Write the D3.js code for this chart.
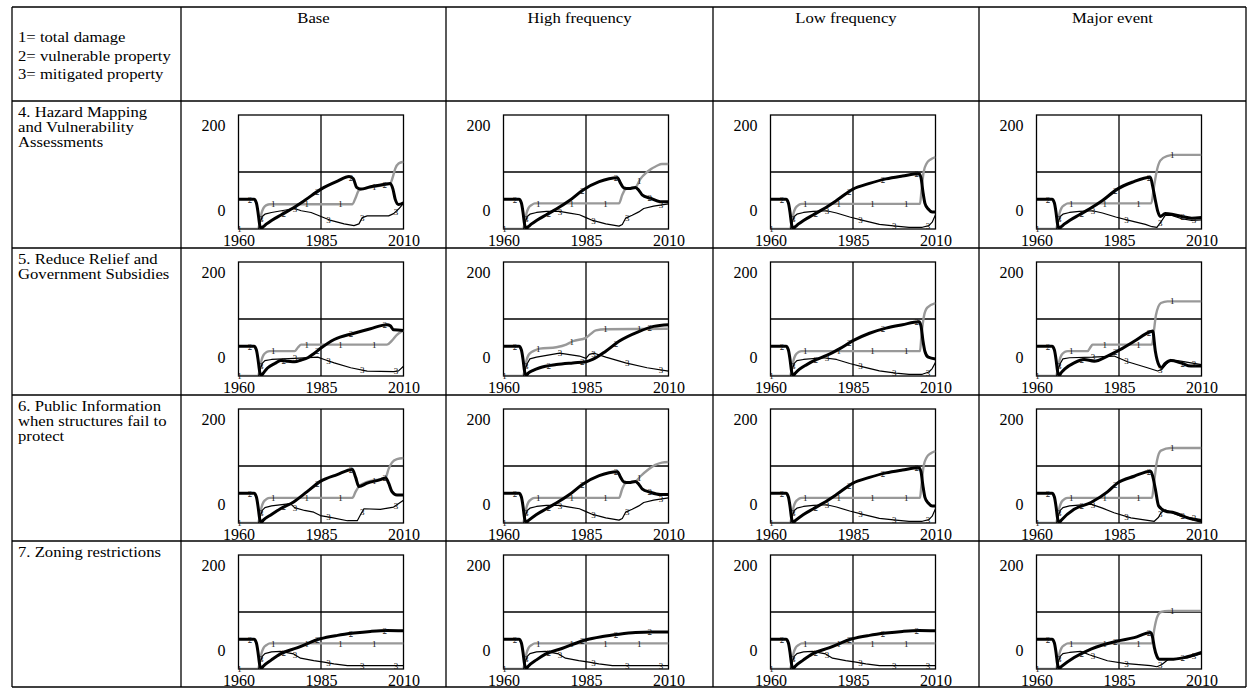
<!DOCTYPE html>
<html>
<head>
<meta charset="utf-8">
<script src="https://cdn.jsdelivr.net/npm/d3@7"></script>
<style>
body { margin: 0; background: #fff; }
svg text { font-family: "Liberation Serif", "Times New Roman", serif; }
</style>
</head>
<body>
<svg id="chart" width="1249" height="688"></svg>
<script>
// text of the table
const scenarios = ["Base", "High frequency", "Low frequency", "Major event"];
const legendLines = ["1= total damage", "2= vulnerable property", "3= mitigated property"];
const policyLabels = [
  ["4. Hazard Mapping", "and Vulnerability", "Assessments"],
  ["5. Reduce Relief and", "Government Subsidies"],
  ["6. Public Information", "when structures fail to", "protect"],
  ["7. Zoning restrictions"]
];
const xTicks = [1960, 1985, 2010];
const yTicks = [0, 200];
// years where the little series numbers sit
const labelYears = [
  [1960.3, 1970.5, 1980.7, 1990.9, 2001.1],
  [1963.5, 1973.7, 1983.9, 1994.1, 2004.3],
  [1966.9, 1977.1, 1987.3, 1997.5, 2007.7]
];

// same first years in every run
const startDamage = [[1960,0],[1965.9,0],[1966.4,10],[1967,28],[1967.6,37],[1968.5,42]];
const startVulnerable = [[1960,52],[1964.7,52],[1965.4,46],[1965.9,30],[1966.4,8],[1966.9,1]];
const startMitigated = [[1960,0],[1966.1,0],[1966.6,12],[1967.2,22]];

// 4. hazard mapping  (base, high, low, major)
const hazardDamage = [
  [[1969.5,43.5],[1994.5,43.5],[1995.5,55],[1996.5,68],[1998,71],[2001,74],[2004,77],[2006,80],[2006.8,92],[2007.5,106],[2008.5,115],[2010,118]],
  [[1969.5,45],[1995,45],[1996,60],[1997,70],[2000,73],[2001.5,88],[2003.5,100],[2006.5,111],[2008,114],[2010,114]],
  [[1969.5,44],[2005.3,44],[2005.8,70],[2006.4,100],[2007.3,115],[2008.5,122],[2010,126]],
  [[1969.5,45],[1994.8,45],[1995.5,70],[1996.3,98],[1997.5,120],[1999.5,128],[2002,130],[2010,130]]
];
const hazardVulnerable = [
  [[1967.5,4],[1968.5,9],[1970,15],[1973,25],[1976,35],[1980,50],[1985,70],[1990,84],[1993.5,92],[1994.8,88],[1995.8,73],[1997,70],[2000,74],[2004,78],[2006,80],[2006.8,70],[2007.5,52],[2008.5,43],[2010,46]],
  [[1967.5,4],[1968.5,9],[1970,15],[1973,25],[1976,35],[1980,50],[1984,68],[1989,83],[1994.5,90],[1995.5,80],[1996.5,72],[1998,71],[2000,73],[2001,68],[2002,60],[2004.5,54],[2007.5,48],[2010,48]],
  [[1967.5,4],[1968.5,9],[1970,15],[1973,25],[1976,35],[1980,50],[1985,70],[1990,80],[1995,88],[2000,93],[2005,97],[2005.6,90],[2006.2,65],[2006.8,45],[2007.8,35],[2009,30],[2010,30]],
  [[1967.5,4],[1968.5,9],[1970,15],[1973,25],[1976,35],[1980,50],[1984.5,70],[1989,82],[1994.5,91],[1995.2,75],[1996,51],[1996.8,30],[1997.5,22],[1999,27],[2001,26],[2004,22],[2007,19],[2010,20]]
];
const hazardMitigated = [
  [[1968,26],[1970,29],[1973,32],[1977,36],[1979,32],[1982,29],[1985,22],[1988,15],[1992,9],[1995,6],[1996.5,9],[1997.5,20],[1999,23],[2005.5,23],[2007,27],[2008.5,35],[2010,45]],
  [[1968,26],[1970,29],[1973,31],[1977,31],[1980,28],[1983,25],[1985,20],[1987,15],[1991,9],[1995,5],[1996,8],[1997,19],[1999,24],[2001,30],[2002.5,36],[2005.5,40],[2010,44]],
  [[1968,26],[1970,29],[1973,31],[1977,32],[1980,28],[1984,21],[1988,15],[1993,8],[1998,5],[2002,3],[2006,3],[2008,6],[2009,12],[2010,25]],
  [[1968,26],[1970,29],[1973,31],[1977,32],[1980,28],[1984,21],[1988,15],[1993,8],[1995,4],[1996.5,3],[1998,15],[1999,24],[2001,24],[2004,18],[2007,15],[2010,16]]
];

// 5. reduce relief
const reliefDamage = [
  [[1969.5,43.6],[1977,43.6],[1978,50],[1979,55],[2005,55],[2006.5,62],[2008,72],[2010,80]],
  [[1969,43.6],[1971,48],[1976,50.5],[1979,55],[1981,61],[1985,67],[1986.5,74],[1988,80],[1991,82],[2010,83]],
  [[1969.5,43.6],[2005.3,43.6],[2005.8,75],[2006.5,105],[2007.5,120],[2010,128]],
  [[1969.5,43.6],[1975.5,43.6],[1976.3,50],[1977,55],[1995,55],[1995.6,80],[1996.2,107],[1997.7,128],[1999.7,131],[2010,131]]
];
const reliefVulnerable = [
  [[1967.5,5],[1968.8,14],[1971,22],[1972.8,27],[1975,26],[1977,25],[1979,28],[1981,32],[1983,40],[1985,49],[1989,64],[1995,75],[2000,83],[2005,90],[2006,88],[2007,81],[2010,80]],
  [[1967.5,5],[1969,10],[1971,14.5],[1976,20],[1981,23],[1985,25],[1987,29],[1991,43.6],[1995,61],[2001,78],[2005.5,87],[2010,90]],
  [[1967.5,5],[1968.8,12],[1971,20],[1974,29],[1977,36],[1981,48],[1985,62],[1990,75],[1995,84],[2000,90],[2005,95],[2005.6,88],[2006.2,62],[2006.8,43],[2007.8,33],[2010,30]],
  [[1967.5,6],[1968.5,12],[1971.4,23],[1974.4,29],[1977.5,26],[1981.5,35],[1984.5,43.6],[1989.6,61],[1994.6,78],[1995.2,79],[1996,44],[1997.2,18],[1997.8,15],[1999,22],[2000.7,27],[2003.7,23],[2006.8,17.4],[2010,17.4]]
];
const reliefMitigated = [
  [[1968,27],[1970,29],[1977,31],[1984,33],[1986,29],[1989,23],[1994,14.5],[1999,8.7],[2007,7.6],[2008.5,9],[2010,17]],
  [[1968,30],[1970,33],[1977,40],[1983,35],[1985,31],[1986,38],[1987.5,40],[1991,33],[1997,23],[2003.5,14.5],[2010,8.7]],
  [[1968,27],[1970,29],[1976,32],[1980,29],[1984,22],[1988,16],[1993,9],[1998,5],[2002,3],[2006,3],[2008,7],[2009,13],[2010,24]],
  [[1968,30],[1970,32],[1977,33],[1983.5,35],[1987.6,25],[1993.6,14.5],[1996.7,8.7],[1998,11.6],[1999.5,22],[2000.7,29],[2003.7,26],[2006.8,23],[2010,20]]
];

// 6. public information
const publicDamage = [
  [[1969.5,44],[1994.5,44],[1995.5,55],[1996.5,64],[1999,72],[2003,77],[2004.6,80],[2005.5,95],[2006.5,106],[2008,112],[2010,114]],
  [[1969.5,44],[1995,44],[1996,60],[1997,70],[2000,73],[2001.5,82],[2003.5,92],[2006,102],[2008,106],[2010,107]],
  [[1969.5,44],[2005.3,44],[2005.8,70],[2006.4,100],[2007.3,115],[2008.5,122],[2010,126]],
  [[1969.5,44],[1995,44],[1995.6,70],[1996.5,109],[1997.7,127],[2000.7,131.5],[2010,131.5]]
];
const publicVulnerable = [
  [[1967.5,5],[1970,15],[1972.7,25],[1976.7,37],[1980.8,55],[1984.8,73],[1989.9,85],[1994.5,94],[1995.5,80],[1996.5,64],[1999,70],[2003,76],[2004.6,79],[2005.5,70],[2006.5,55],[2008,49],[2010,49]],
  [[1967.5,4],[1970,15],[1973,25],[1976,35],[1980,50],[1984,68],[1989,83],[1994.5,90],[1995.5,80],[1996.5,72],[1998,71],[2000,73],[2001,68],[2002,60],[2004.5,54],[2007.5,50],[2010,50]],
  [[1967.5,4],[1970,15],[1973,25],[1976,35],[1980,50],[1985,70],[1990,80],[1995,88],[2000,93],[2005,97],[2005.6,90],[2006.2,65],[2006.8,45],[2007.8,35],[2009,30],[2010,30]],
  [[1967.5,5],[1971.4,24],[1976.5,36],[1981.5,54.5],[1984.5,70],[1989.6,82],[1994.6,91],[1995.3,80],[1996,60],[1997,30],[1999,21],[2001.7,18],[2005.8,9],[2010,3]]
];
const publicMitigated = [
  [[1968,27],[1970,30],[1975.7,34],[1977,27],[1980,22],[1982.8,19],[1984.8,13],[1987.9,10],[1993,4],[1996,4],[1997,15],[1998,25],[2003,24],[2007,28],[2010,40]],
  [[1968,26],[1970,29],[1973,31],[1977,31],[1980,28],[1983,25],[1985,20],[1987,15],[1991,9],[1995,5],[1996,8],[1997,19],[1999,24],[2001,30],[2002.5,36],[2005.5,40],[2010,44]],
  [[1968,26],[1970,29],[1973,31],[1977,32],[1980,28],[1984,21],[1988,15],[1993,8],[1998,5],[2002,3],[2006,3],[2008,6],[2009,12],[2010,25]],
  [[1968,27],[1970,30],[1976.5,33],[1980,26],[1983.5,18],[1988.6,9],[1995.7,3],[1997,10],[1997.7,18],[1999,23],[2003.7,12],[2010,6]]
];

// 7. zoning restrictions
const zoningDamage = [
  [[1969.5,45],[2010,45]],
  [[1969.5,45],[2010,45]],
  [[1969.5,45],[2010,45]],
  [[1969.5,45],[1995,45],[1995.7,70],[1996.5,90],[1997.7,100],[2000,102],[2010,102]]
];
const zoningVulnerable = [
  [[1967.5,5],[1970,16],[1972.7,26.5],[1977.7,37],[1984.8,53],[1990,59],[1995,63],[2000,66],[2005,67.6],[2010,67]],
  [[1967.5,5],[1970,16],[1972.7,26],[1977.7,36],[1984.8,51],[1990,57],[1995,61],[2000,64],[2005,65],[2010,65]],
  [[1967.5,5],[1970,16],[1972.7,26.5],[1977.7,37],[1984.8,53],[1990,59],[1995,63],[2000,66],[2005,67.6],[2010,67]],
  [[1967.5,4],[1971.4,20],[1976.5,35],[1984.5,49],[1989.6,55],[1994.6,64],[1995.2,55],[1995.7,38],[1996.5,22],[1997.2,17],[2000.7,17],[2004.7,20],[2010,29]]
];
const zoningMitigated = [
  [[1968,27],[1970,30],[1972.7,31],[1976.7,26.5],[1978.8,19],[1982.8,14.7],[1985.9,12],[1988.9,9],[1993,6],[2010,6]],
  [[1968,27],[1970,30],[1972.7,31],[1976.7,26.5],[1978.8,19],[1982.8,14.7],[1985.9,12],[1988.9,9],[1993,6],[2010,6]],
  [[1968,27],[1970,30],[1972.7,31],[1976.7,26.5],[1978.8,19],[1982.8,14.7],[1985.9,12],[1988.9,9],[1993,6],[2010,6]],
  [[1968,27],[1970,29],[1973.4,31],[1976,25],[1981.5,14.5],[1986.6,10],[1994.6,6],[1996.5,4],[1998,8],[2000,17],[2005.8,20],[2010,27]]
];

const policyData = [
  [hazardDamage, hazardVulnerable, hazardMitigated],
  [reliefDamage, reliefVulnerable, reliefMitigated],
  [publicDamage, publicVulnerable, publicMitigated],
  [zoningDamage, zoningVulnerable, zoningMitigated]
];
const starts = [startDamage, startVulnerable, startMitigated];

// layout
const svg = d3.select("#chart");
const colX = [12, 181, 446, 713, 979, 1246];
const rowY = [7, 101, 248, 395, 541, 687];
const boxW = 165, boxH = 114;
const textSize = 14.5, textStretch = 1.15;
const lineStyle = [
  { color: "#999", width: 2.4 },
  { color: "#000", width: 3 },
  { color: "#000", width: 1.2 }
];

// table rules
const grid = svg.append("g").attr("stroke", "#000").attr("stroke-width", 1.3);
grid.selectAll("line.v").data(colX).enter().append("line")
  .attr("x1", d => d).attr("x2", d => d)
  .attr("y1", rowY[0]).attr("y2", rowY[5]);
grid.selectAll("line.h").data(rowY).enter().append("line")
  .attr("x1", colX[0]).attr("x2", colX[5])
  .attr("y1", d => d).attr("y2", d => d);

// cell text, a bit wider than tall like the scanned table
function cellText(x, y, str, anchor) {
  svg.append("g")
    .attr("transform", "translate(" + x + "," + y + ") scale(" + textStretch + ",1)")
    .append("text")
    .attr("dy", "0.35em")
    .attr("text-anchor", anchor || "start")
    .attr("font-size", textSize)
    .text(str);
}

scenarios.forEach((d, i) => cellText((colX[i + 1] + colX[i + 2]) / 2, 18, d, "middle"));
legendLines.forEach((d, i) => cellText(18, 37 + i * 18.5, d));
policyLabels.forEach((lines, r) => {
  lines.forEach((d, i) => cellText(18, rowY[r + 1] + 11 + i * 15, d));
});

function valueAt(pts, yr) {
  const i = d3.bisector(d => d[0]).left(pts, yr);
  if (i <= 0) return pts[0][1];
  if (i >= pts.length) return pts[pts.length - 1][1];
  const a = pts[i - 1], b = pts[i];
  return a[1] + (b[1] - a[1]) * (yr - a[0]) / (b[0] - a[0]);
}

// the 16 small graphs
policyData.forEach((seriesSet, r) => {
  scenarios.forEach((s, c) => {
    const left = colX[c + 1] + 57.5;
    const top = rowY[r + 1] + 14;
    const x = d3.scaleLinear().domain([1960, 2010]).range([left, left + boxW]);
    const y = d3.scaleLinear().domain([0, 200]).range([top + boxH, top]);
    const g = svg.append("g");
    const clipId = "clip" + r + c;

    g.append("clipPath").attr("id", clipId).append("rect")
      .attr("x", left).attr("y", top).attr("width", boxW).attr("height", boxH);

    // axes labels
    const xAxis = g.append("g")
      .attr("transform", "translate(0," + (top + boxH) + ")")
      .call(d3.axisBottom(x).tickValues(xTicks).tickSize(0).tickFormat(d3.format("d")));
    xAxis.select(".domain").remove();
    xAxis.selectAll("text").attr("y", 12).attr("dy", "0.32em")
      .attr("font-size", 16).attr("font-family", "Liberation Serif").attr("fill", "#000");

    const yAxis = g.append("g")
      .attr("transform", "translate(" + left + ",0)")
      .call(d3.axisLeft(y).tickValues(yTicks).tickSize(0));
    yAxis.select(".domain").remove();
    yAxis.selectAll("text").attr("x", -13).attr("dy", "0.35em")
      .attr("transform", d => "translate(0," + (d === 0 ? -19 : 10) + ")")
      .attr("font-size", 16).attr("font-family", "Liberation Serif").attr("fill", "#000");

    // frame and mid lines
    g.append("rect").attr("x", left).attr("y", top).attr("width", boxW).attr("height", boxH)
      .attr("fill", "none").attr("stroke", "#000").attr("stroke-width", 1.3);
    g.append("line").attr("x1", x(1985)).attr("x2", x(1985)).attr("y1", top).attr("y2", top + boxH)
      .attr("stroke", "#000").attr("stroke-width", 1.3);
    g.append("line").attr("x1", left).attr("x2", left + boxW).attr("y1", y(100)).attr("y2", y(100))
      .attr("stroke", "#000").attr("stroke-width", 1.3);

    const plot = g.append("g").attr("clip-path", "url(#" + clipId + ")");
    const series = seriesSet.map((set, k) => starts[k].concat(set[c]));

    series.forEach((pts, k) => {
      const line = d3.line()
        .x(d => x(d[0])).y(d => y(d[1]))
        .curve(k === 2 ? d3.curveLinear : d3.curveMonotoneX);
      plot.append("path").datum(pts)
        .attr("d", line)
        .attr("fill", "none")
        .attr("stroke", lineStyle[k].color)
        .attr("stroke-width", lineStyle[k].width)
        .attr("stroke-linejoin", "round");
    });

    series.forEach((pts, k) => {
      g.selectAll(null).data(labelYears[k]).enter().append("text")
        .attr("x", d => x(d))
        .attr("y", d => y(valueAt(pts, d)))
        .attr("dy", "0.35em")
        .attr("text-anchor", "middle")
        .attr("font-size", 9)
        .attr("font-family", "DejaVu Serif")
        .attr("fill", "#111")
        .text(k + 1);
    });
  });
});
</script>
</body>
</html>
